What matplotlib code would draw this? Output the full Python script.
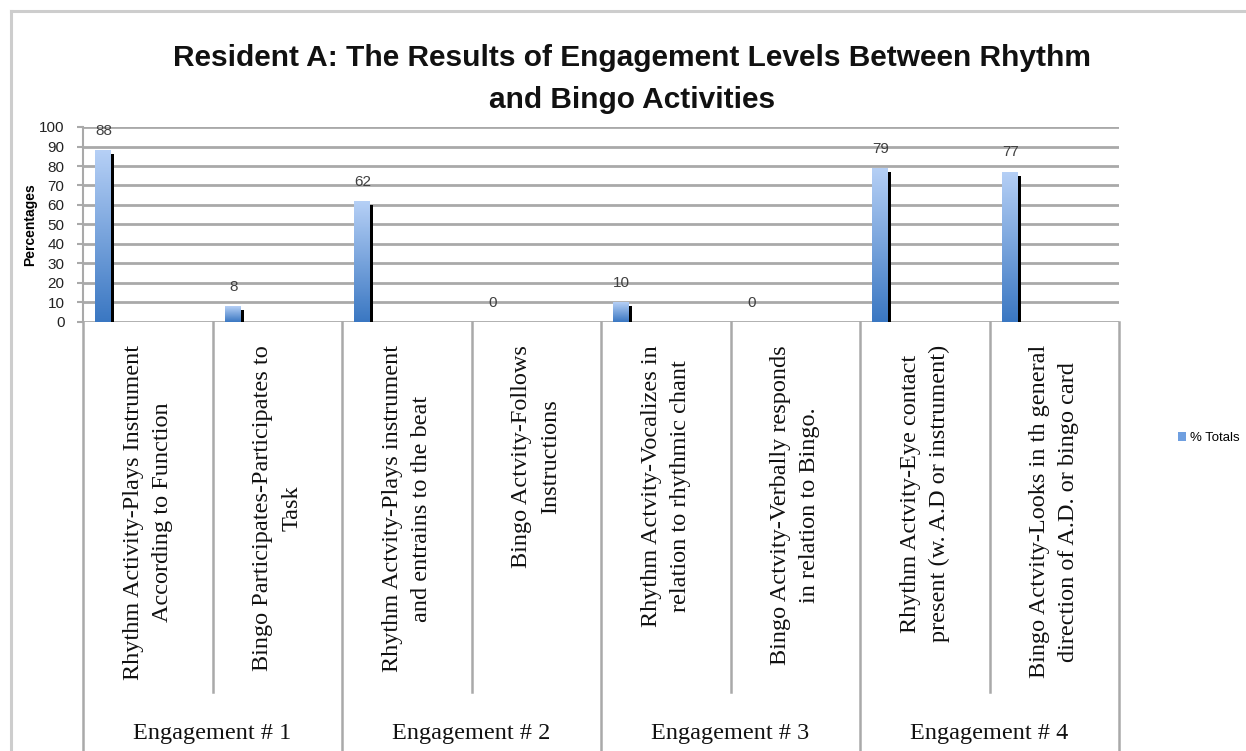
import numpy as np
import matplotlib.pyplot as plt
from matplotlib.colors import LinearSegmentedColormap
from matplotlib.lines import Line2D
from matplotlib.patches import Patch

title = 'Resident A: The Results of Engagement Levels Between Rhythm\nand Bingo Activities'
categories = [
    'Rhythm Activity-Plays Instrument\nAccording to Function',
    'Bingo Participates-Participates to\nTask',
    'Rhythm Actvity-Plays instrument\nand entrains to the beat',
    'Bingo Actvity-Follows\nInstructions',
    'Rhythm Actvity-Vocalizes in\nrelation to rhythmic chant',
    'Bingo Actvity-Verbally responds\nin relation to Bingo.',
    'Rhythm Actvity-Eye contact\npresent (w. A.D or instrument)',
    'Bingo Actvity-Looks in th general\ndirection of A.D. or bingo card',
]
groups = ['Engagement # 1', 'Engagement # 2', 'Engagement # 3', 'Engagement # 4']
values = [88, 8, 62, 0, 10, 0, 79, 77]
series_name = '% Totals'
yticks = list(range(0, 101, 10))

W, H = 1246, 751
fig = plt.figure(figsize=(W / 100, H / 100), dpi=100)

def fx(px):
    return px / W

def fy(py):
    return 1 - py / H

grid_col = '#a9a9a9'
sans = ['Liberation Sans', 'DejaVu Sans']
serif = ['Liberation Serif', 'DejaVu Serif']

# chart frame
fig.add_artist(Line2D([fx(11), 1], [fy(11), fy(11)], color='#cdcdcd', lw=2.2))
fig.add_artist(Line2D([fx(11), fx(11)], [0, fy(11)], color='#cdcdcd', lw=2.2))

ax = fig.add_axes([fx(83), fy(322), fx(1119) - fx(83), fy(127) - fy(322)])

x = np.arange(len(categories)) + 0.093
bw = 0.116
vals = np.array(values, dtype=float)

ax.bar(x + bw, np.clip(vals - 2, 0, None), width=0.031, align='edge',
       color='black', zorder=2)
bars = ax.bar(x, vals, width=bw, align='edge', color='#6f9fe0', zorder=3,
              label=series_name)

cmap = LinearSegmentedColormap.from_list('g', ['#3a77c2', '#b6d0f6'])
grad = np.linspace(1, 0, 256).reshape(-1, 1)
for b in bars:
    if b.get_height() <= 0:
        continue
    im = ax.imshow(grad, extent=[b.get_x(), b.get_x() + b.get_width(), 0, b.get_height()],
                   aspect='auto', cmap=cmap, zorder=3.5, interpolation='bicubic')
    im.set_clip_path(b)
ax.set_xlim(0, len(categories))
ax.set_ylim(0, 100)

for xi, v in zip(x, values):
    ax.annotate(str(v), (xi + bw / 2 + 0.01, v), xytext=(0, 14), textcoords='offset points',
                ha='center', va='center', fontsize=11, color='#404040', family=sans,
                annotation_clip=False)

ax.set_yticks(yticks)
ax.set_yticklabels([str(t) for t in yticks], family=sans, fontsize=11, color='#222222')
ax.set_xticks([])
ax.yaxis.grid(True, color=grid_col, lw=2)
ax.set_axisbelow(True)
ax.tick_params(axis='y', length=4.3, width=1.5, color=grid_col, pad=9)
for s in ['top', 'right', 'bottom']:
    ax.spines[s].set_visible(False)
ax.spines['left'].set_color(grid_col)
ax.spines['left'].set_linewidth(1.5)
ax.set_ylabel('Percentages', family=sans, fontsize=10, fontweight='bold')
ax.yaxis.set_label_coords((30 - 83) / (1119 - 83), 0.5)
ax.yaxis.label.set_va('center')

# category table below the plot
at = fig.add_axes([fx(83), 0, fx(1119) - fx(83), fy(322)])
at.set_xlim(0, len(categories))
at.set_ylim(H, 322)
at.axis('off')
for i in range(len(categories) + 1):
    bottom = H if i % 2 == 0 else 692
    at.plot([i, i], [322, bottom], color=grid_col, lw=1.8, clip_on=False)
for i, lab in enumerate(categories):
    at.text(i + 0.5, 345, lab, rotation=90, ha='center', va='top', multialignment='center',
            family=serif, fontsize=17.5, linespacing=1.5, color='#111111')
for g, lab in enumerate(groups):
    at.text(2 * g + 1, 733, lab, ha='center', va='center', family=serif,
            fontsize=17.5, color='#111111')

fig.text(fx(632), fy(79), title, ha='center', va='center', fontsize=21.5,
         fontweight='bold', family=sans, linespacing=1.65, color='#111111')

fig.legend(handles=[Patch(facecolor='#6f9fe0', label=series_name)],
           loc='center left', bbox_to_anchor=(fx(1178), fy(438)), frameon=False,
           prop={'family': sans, 'size': 9.5}, handlelength=0.6, handleheight=0.6,
           handletextpad=0.3, borderpad=0, borderaxespad=0)

fig.savefig('out.png', dpi=100)
